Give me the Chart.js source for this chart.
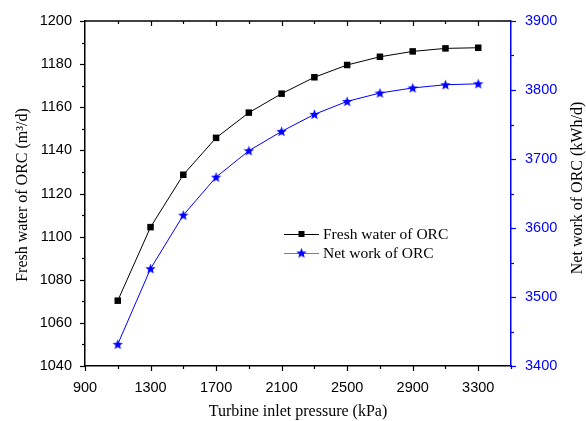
<!DOCTYPE html>
<html>
<head>
<meta charset="utf-8">
<script src="https://cdn.jsdelivr.net/npm/chart.js@4/dist/chart.umd.min.js"></script>
<style>
html,body{margin:0;padding:0;background:#fff;}
#wrap{width:586px;height:421px;position:relative;}
</style>
</head>
<body>
<div id="wrap"><canvas id="c" width="586" height="421"></canvas></div>
<script>
const pressures = [1100, 1300, 1500, 1700, 1900, 2100, 2300, 2500, 2700, 2900, 3100, 3300];
const freshWater = [1070.3, 1104.4, 1128.7, 1145.8, 1157.5, 1166.3, 1173.9, 1179.6, 1183.4, 1185.9, 1187.3, 1187.6];
const netWork = [3431.5, 3541, 3618.6, 3673.7, 3712, 3740, 3764.7, 3783.5, 3795.6, 3803, 3807.6, 3809];
const seriesNames = ['Fresh water of ORC', 'Net work of ORC'];
const xTitle = 'Turbine inlet pressure (kPa)';
const yTitle = 'Fresh water of ORC (m³/d)';
const y1Title = 'Net work of ORC (kWh/d)';

const BLUE = '#0000ff';

function makeStar(size, color) {
  const c = document.createElement('canvas');
  c.width = size; c.height = size;
  const g = c.getContext('2d');
  const cx = size / 2, cy = size / 2 + 0.4, R = size / 2, r = R * 0.42;
  g.beginPath();
  for (let i = 0; i < 10; i++) {
    const a = -Math.PI / 2 + i * Math.PI / 5;
    const rad = i % 2 === 0 ? R : r;
    const px = cx + rad * Math.cos(a), py = cy + rad * Math.sin(a);
    if (i === 0) g.moveTo(px, py); else g.lineTo(px, py);
  }
  g.closePath();
  g.fillStyle = color;
  g.fill();
  return c;
}
const starImg = makeStar(11, BLUE);

const decor = {
  id: 'decor',
  afterDraw(chart) {
    const ctx = chart.ctx;
    const ca = chart.chartArea;
    const sx = chart.scales.x, sy = chart.scales.y, sy1 = chart.scales.y1;
    ctx.save();
    ctx.strokeStyle = '#000';
    ctx.lineWidth = 1.5;
    ctx.beginPath();
    ctx.moveTo(ca.left, ca.top);
    ctx.lineTo(ca.right, ca.top);
    ctx.stroke();
    ctx.lineWidth = 1.2;
    sx.ticks.forEach(t => {
      const px = Math.round(sx.getPixelForValue(t.value)) + 0.5;
      const major = ((t.value - 900) % 400) === 0;
      const len = major ? 5 : 3;
      ctx.beginPath();
      ctx.moveTo(px, ca.bottom);
      ctx.lineTo(px, ca.bottom + len);
      if (t.value < 3500 && t.value > 900) {
        ctx.moveTo(px, ca.top);
        ctx.lineTo(px, ca.top + len);
      }
      ctx.stroke();
    });
    sy.ticks.forEach(t => {
      const py = Math.round(sy.getPixelForValue(t.value)) + 0.5;
      const major = (t.value % 20) === 0;
      const len = major ? 5 : 3;
      ctx.beginPath();
      ctx.moveTo(ca.left, py);
      ctx.lineTo(ca.left - len, py);
      ctx.stroke();
    });
    ctx.strokeStyle = BLUE;
    sy1.ticks.forEach(t => {
      const py = Math.round(sy1.getPixelForValue(t.value)) + 0.5;
      const major = (t.value % 100) === 0;
      const len = major ? 5 : 3;
      ctx.beginPath();
      ctx.moveTo(ca.right, py);
      ctx.lineTo(ca.right + len, py);
      ctx.stroke();
    });
    ctx.fillStyle = '#000';
    ctx.font = '16px "Liberation Serif", "Times New Roman", serif';
    ctx.textAlign = 'center';
    ctx.textBaseline = 'middle';
    ctx.fillText(xTitle, (ca.left + ca.right) / 2, 412);
    ctx.save();
    ctx.translate(23, 195);
    ctx.rotate(-Math.PI / 2);
    ctx.fillText(yTitle, 0, 0);
    ctx.restore();
    ctx.save();
    ctx.translate(578, 188);
    ctx.rotate(-Math.PI / 2);
    ctx.fillText(y1Title, 0, 0);
    ctx.restore();
    const lx = 284, lw = 35;
    const rows = [
      {y: 234, name: seriesNames[0], marker: 'sq', line: '#000'},
      {y: 253, name: seriesNames[1], marker: 'star', line: '#6f6fff'}
    ];
    ctx.textAlign = 'left';
    ctx.font = '15.5px "Liberation Serif", "Times New Roman", serif';
    rows.forEach(r => {
      ctx.strokeStyle = r.line;
      ctx.lineWidth = 1.2;
      ctx.beginPath();
      ctx.moveTo(lx, r.y + 0.5);
      ctx.lineTo(lx + lw, r.y + 0.5);
      ctx.stroke();
      const mx = lx + lw / 2;
      if (r.marker === 'sq') {
        ctx.fillStyle = '#000';
        ctx.fillRect(mx - 3, r.y - 3, 6, 6);
      } else {
        ctx.drawImage(starImg, mx - 5.5, r.y - 5.5);
      }
      ctx.fillStyle = '#000';
      ctx.fillText(r.name, lx + lw + 4, r.y + 1);
    });
    ctx.restore();
  }
};

const tickFont = {family: '"Liberation Sans", Arial, sans-serif', size: 14.5};

new Chart(document.getElementById('c'), {
  type: 'line',
  data: {
    datasets: [
      {
        label: seriesNames[0],
        data: pressures.map((p, i) => ({x: p, y: freshWater[i]})),
        yAxisID: 'y',
        borderColor: '#000',
        borderWidth: 1,
        backgroundColor: '#000',
        pointStyle: 'rect',
        pointRadius: 4.6,
        pointBorderWidth: 0,
        tension: 0
      },
      {
        label: seriesNames[1],
        data: pressures.map((p, i) => ({x: p, y: netWork[i]})),
        yAxisID: 'y1',
        borderColor: BLUE,
        borderWidth: 1,
        backgroundColor: BLUE,
        pointStyle: starImg,
        pointRadius: 5,
        tension: 0
      }
    ]
  },
  options: {
    responsive: false,
    animation: false,
    devicePixelRatio: 1,
    layout: {padding: {top: 21, left: 0, right: 0, bottom: 0}},
    plugins: {legend: {display: false}, tooltip: {enabled: false}},
    scales: {
      x: {
        type: 'linear',
        position: 'bottom',
        min: 900, max: 3500,
        afterFit(s) { s.height = 55; },
        ticks: {
          stepSize: 200,
          autoSkip: false,
          maxRotation: 0,
          padding: 8,
          color: '#000',
          font: tickFont,
          callback: v => (((v - 900) % 400) === 0 && v < 3500) ? String(v) : ''
        },
        grid: {display: true, drawOnChartArea: false, drawTicks: true, tickLength: 5, color: 'rgba(0,0,0,0)'},
        border: {display: true, color: '#000', width: 1.5}
      },
      y: {
        type: 'linear',
        position: 'left',
        min: 1040, max: 1200,
        afterFit(s) { s.width = 85; },
        ticks: {
          stepSize: 10,
          autoSkip: false,
          padding: 8,
          color: '#000',
          font: tickFont,
          callback: v => (v % 20 === 0) ? String(v) : ''
        },
        grid: {display: true, drawOnChartArea: false, drawTicks: true, tickLength: 5, color: 'rgba(0,0,0,0)'},
        border: {display: true, color: '#000', width: 1.5}
      },
      y1: {
        type: 'linear',
        position: 'right',
        min: 3400, max: 3900,
        afterFit(s) { s.width = 75; },
        ticks: {
          stepSize: 50,
          autoSkip: false,
          padding: 9,
          color: BLUE,
          font: tickFont,
          callback: v => (v % 100 === 0) ? String(v) : ''
        },
        grid: {display: true, drawOnChartArea: false, drawTicks: true, tickLength: 5, color: 'rgba(0,0,0,0)'},
        border: {display: true, color: BLUE, width: 1.5}
      }
    }
  },
  plugins: [decor]
});
</script>
</body>
</html>
